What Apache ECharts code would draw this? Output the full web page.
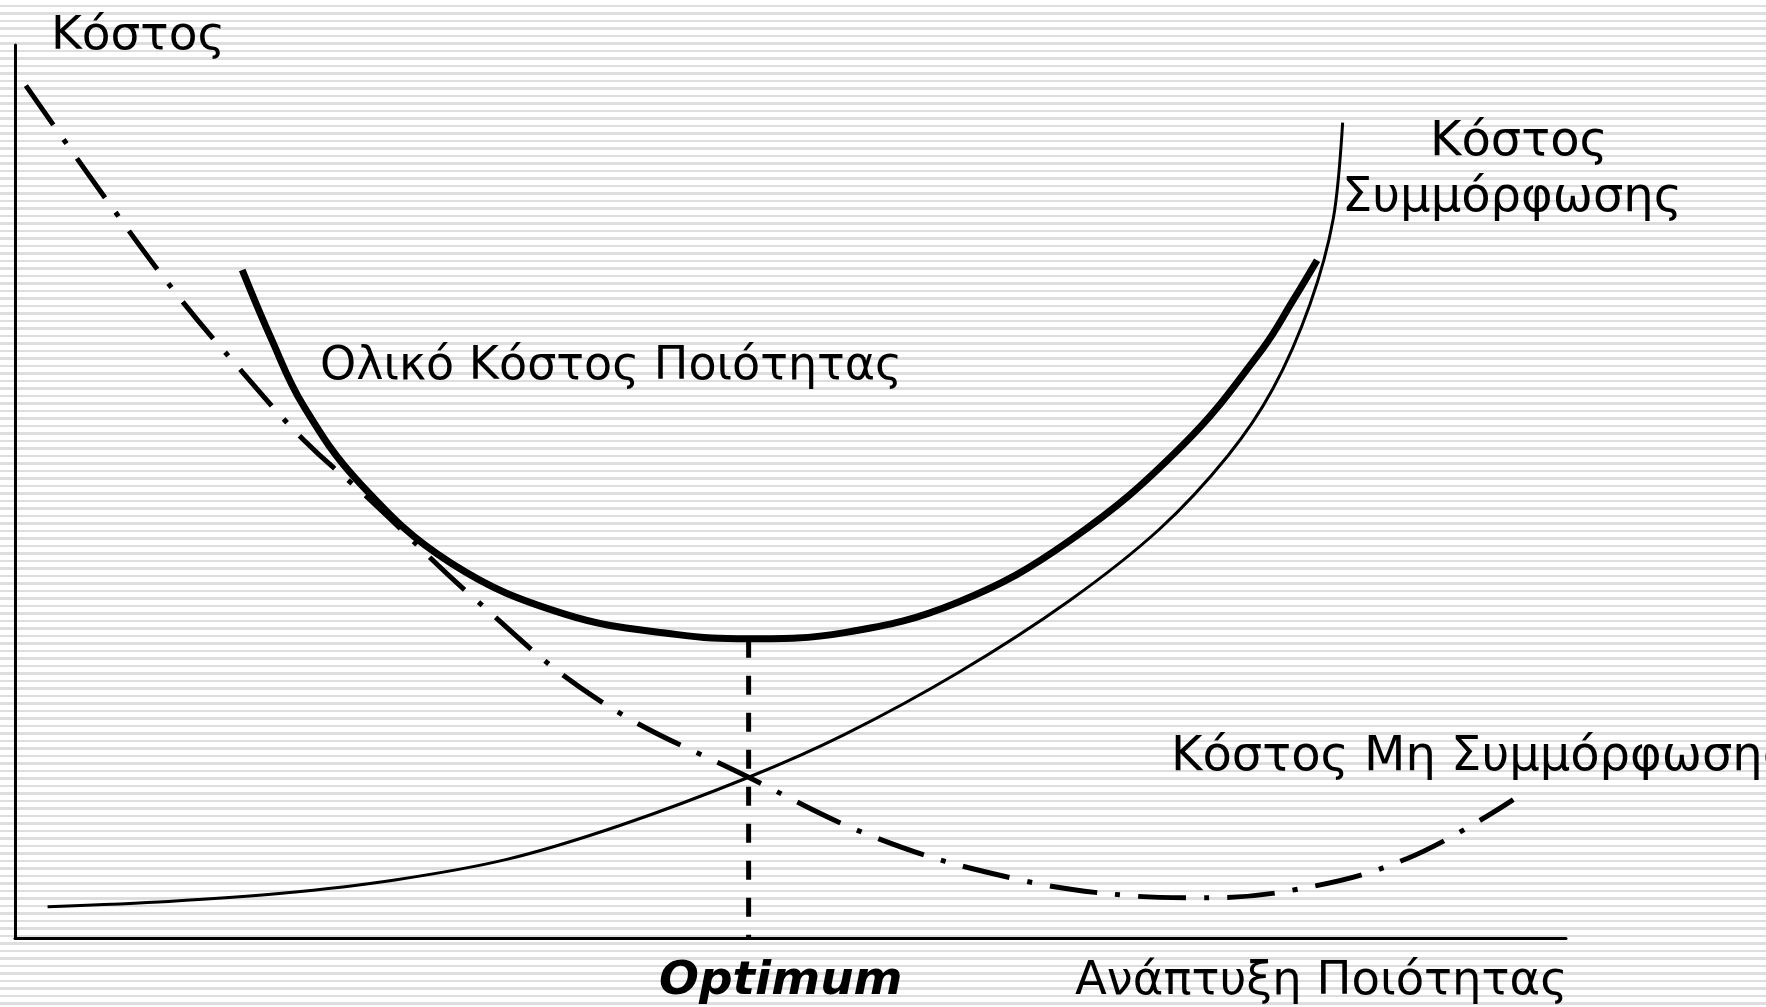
<!DOCTYPE html>
<html>
<head>
<meta charset="utf-8">
<script src="https://cdn.jsdelivr.net/npm/echarts@6/dist/echarts.min.js"></script>
<style>
html, body {
    margin: 0;
    padding: 0;
}
body {
    background: repeating-linear-gradient(to bottom, #ffffff 0px, #ffffff 5px, #dedede 5px, #dedede 7.5px);
}
#chart {
    width: 1766px;
    height: 1007px;
}
</style>
</head>
<body>
<div id="chart"></div>
<script>
// Κόστος Συμμόρφωσης (λεπτή συνεχής)
var complianceX = [2.1, 9.9, 17.2, 24.5, 31.7, 39.0, 47.3, 53.5, 60.8, 68.0, 73.8, 78.2, 81.1, 83.5, 85.0, 85.6];
var complianceY = [3.5, 4.1, 5.0, 6.5, 8.8, 12.6, 18.0, 22.8, 29.7, 37.8, 45.8, 54.0, 61.5, 71.0, 80.6, 91.3];

// Ολικό Κόστος Ποιότητας (παχιά)
var totalX = [14.65, 16.5, 18.6, 22.3, 28.1, 35.4, 42.6, 47.3, 53.5, 60.8, 68.0, 75.3, 80.4, 82.4, 83.95];
var totalY = [74.8, 67.2, 59.6, 50.8, 42.0, 36.3, 34.0, 33.5, 34.2, 37.6, 44.5, 55.2, 65.9, 71.4, 75.9];

// Κόστος Μη Συμμόρφωσης (παύλα-τελεία)
var nonComplianceX = [0.7, 6.3, 10.65, 14.65, 18.6, 23.0, 29.5, 37.5, 47.3, 55.7, 64.4, 71.65, 76.0, 82.5, 89.8, 96.6];
var nonComplianceY = [95.45, 81.7, 71.6, 63.4, 55.8, 48.9, 38.2, 26.8, 18.0, 11.1, 6.66, 4.77, 4.5, 5.4, 8.93, 15.5];

// σημείο βέλτιστου
var optimumX = 47.3;
var optimumY = [33.5, 0];

function zip(xs, ys) {
    return xs.map(function (x, i) { return [x, ys[i]]; });
}

var myChart = echarts.init(document.getElementById('chart'));
var font = '"DejaVu Sans", Verdana, sans-serif';

var option = {
    animation: false,
    backgroundColor: 'transparent',
    grid: {
        left: 15,
        right: 200,
        top: 45,
        bottom: 69
    },
    xAxis: {
        type: 'value',
        min: 0,
        max: 100,
        axisLine: { show: true, onZero: false, lineStyle: { color: '#000', width: 3 } },
        axisTick: { show: false },
        axisLabel: { show: false },
        splitLine: { show: false }
    },
    yAxis: {
        type: 'value',
        min: 0,
        max: 100,
        axisLine: { show: true, onZero: false, lineStyle: { color: '#000', width: 3 } },
        axisTick: { show: false },
        axisLabel: { show: false },
        splitLine: { show: false }
    },
    series: [
        {
            name: 'Κόστος Συμμόρφωσης',
            type: 'line',
            data: zip(complianceX, complianceY),
            smooth: 0.3,
            symbol: 'none',
            lineStyle: { color: '#000', width: 3 }
        },
        {
            name: 'Ολικό Κόστος Ποιότητας',
            type: 'line',
            data: zip(totalX, totalY),
            smooth: 0.4,
            symbol: 'none',
            lineStyle: { color: '#000', width: 7 }
        },
        {
            name: 'Κόστος Μη Συμμόρφωσης',
            type: 'line',
            data: zip(nonComplianceX, nonComplianceY),
            smooth: 0.4,
            symbol: 'none',
            lineStyle: { color: '#000', width: 5, type: [48, 18, 5, 18], cap: 'butt' }
        },
        {
            name: 'Optimum',
            type: 'line',
            data: [[optimumX, optimumY[0]], [optimumX, optimumY[1]]],
            symbol: 'none',
            lineStyle: { color: '#000', width: 5, type: [19, 18], cap: 'butt' }
        }
    ],
    graphic: [
        { type: 'text', style: { text: 'Κόστος', x: 51, y: 37, font: '47px ' + font, fill: '#000', verticalAlign: 'middle' } },
        { type: 'text', style: { text: 'Κόστος', x: 1430, y: 143, font: '48px ' + font, fill: '#000', verticalAlign: 'middle' } },
        { type: 'text', style: { text: 'Συμμόρφωσης', x: 1342, y: 199, font: '48px ' + font, fill: '#000', verticalAlign: 'middle' } },
        { type: 'text', style: { text: 'Ολικό Κόστος Ποιότητας', x: 320, y: 367, font: '46px ' + font, fill: '#000', verticalAlign: 'middle' } },
        { type: 'text', style: { text: 'Κόστος Μη Συμμόρφωσης', x: 1171, y: 758, font: '48px ' + font, fill: '#000', verticalAlign: 'middle' } },
        { type: 'text', style: { text: 'Optimum', x: 659, y: 982, font: 'italic bold 47px ' + font, fill: '#000', verticalAlign: 'middle' } },
        { type: 'text', style: { text: 'Ανάπτυξη Ποιότητας', x: 1075, y: 982, font: '46.5px ' + font, fill: '#000', verticalAlign: 'middle' } }
    ]
};

myChart.setOption(option);
</script>
</body>
</html>
